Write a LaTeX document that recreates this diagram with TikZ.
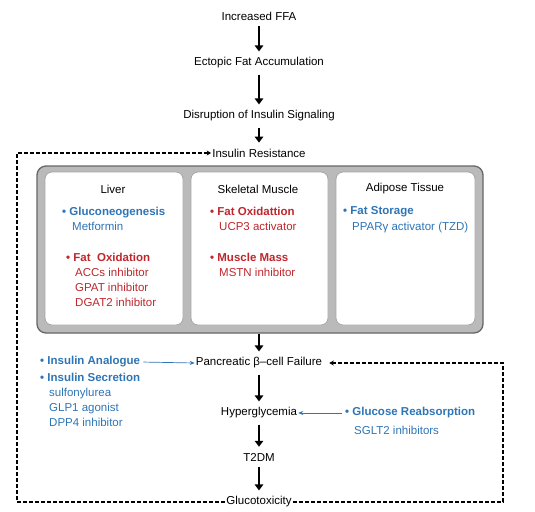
\documentclass[tikz,border=0pt]{standalone}
\usepackage{fontspec}
\setmainfont{Liberation Sans}
\usetikzlibrary{arrows.meta}
\definecolor{drugblue}{RGB}{46,117,182}
\definecolor{drugred}{RGB}{192,39,45}

\begin{document}
\begin{tikzpicture}[x=1pt,y=-1pt,
  stage/.style={inner sep=1pt,font=\fontsize{11.5}{13}\selectfont},
  flow/.style={line width=2.5pt,-{Triangle[length=6pt,width=8.5pt]},shorten <=5pt,shorten >=5pt},
  loopline/.style={dash pattern=on 4pt off 2pt,line width=1.6pt,-{Stealth[length=4.5pt,width=5pt]}},
  drug/.style={drugblue,line width=0.7pt,-{Stealth[length=5pt,width=4pt]}},
  organ/.style={draw=black!35,fill=white,rounded corners=7pt,line width=0.8pt,minimum height=153pt},
  group/.style={anchor=north west,inner sep=0pt,align=left,font=\fontsize{11.5}{15.3}\selectfont}]
\useasboundingbox (0,0) rectangle (535,511);

\node[stage] (ffa) at (259,16) {Increased FFA};
\node[stage] (ectopic) at (259,63) {Ectopic Fat Accumulation};
\node[stage] (signal) at (259,116) {Disruption of Insulin Signaling};
\node[stage] (resist) at (259,153) {Insulin Resistance};

\node[draw=black!60, fill=black!27, line width=1.3pt, rounded corners=9pt, minimum width=446pt, minimum height=167pt] (tissues) at (260,249.5) {};
\node[organ, minimum width=138pt] (liver) at (114,248.5) {};
\node[organ, minimum width=137pt] (muscle) at (259.5,248.5) {};
\node[organ, minimum width=139pt] (adipose) at (405.5,248.5) {};

\node[stage] (livertitle) at (113,189) {Liver};
\node[stage] (muscletitle) at (258,189) {Skeletal Muscle};
\node[stage] (adiposetitle) at (405,189) {Adipose Tissue};

\node[group, text=drugblue] (gluco) at (62,206.5) {\textbf{• Gluconeogenesis}\\\hspace*{10pt}Metformin};
\node[group, text=drugred] (liverfat) at (66,252.5) {\textbf{• Fat~~Oxidation}\\\hspace*{9pt}ACCs inhibitor\\\hspace*{9pt}GPAT inhibitor\\\hspace*{9pt}DGAT2 inhibitor};
\node[group, text=drugred] (musclefat) at (210,206.5) {\textbf{• Fat Oxidattion}\\\hspace*{9pt}UCP3 activator};
\node[group, text=drugred] (mass) at (210,252.5) {\textbf{• Muscle Mass}\\\hspace*{9pt}MSTN inhibitor};
\node[group, text=drugblue] (storage) at (343,206.5) {\textbf{• Fat Storage}\\\hspace*{9pt}PPARγ activator (TZD)};

\node[stage] (failure) at (259,363) {Pancreatic β–cell Failure};
\node[stage] (hyper) at (259,413) {Hyperglycemia};
\node[stage] (t2dm) at (259,457) {T2DM};
\node[stage] (glucotox) at (259,502) {Glucotoxicity};

\node[stage, anchor=west, text=drugblue, font=\fontsize{11.5}{13}\selectfont\bfseries] (analogue) at (39,362) {• Insulin Analogue};
\node[group, text=drugblue] (secretion) at (40,372.5) {\textbf{• Insulin Secretion}\\\hspace*{9pt}sulfonylurea\\\hspace*{9pt}GLP1 agonist\\\hspace*{9pt}DPP4 inhibitor};
\node[stage, anchor=west, text=drugblue, font=\fontsize{11.5}{13}\selectfont\bfseries] (reabs) at (344,413) {• Glucose Reabsorption};
\node[stage, anchor=west, text=drugblue] (sglt) at (353,430) {SGLT2 inhibitors};

\draw[flow] (ffa) -- (ectopic);
\draw[flow] (ectopic) -- (signal);
\draw[flow] (signal) -- (resist);
\draw[flow, shorten <=0pt] (tissues.south -| failure) -- (failure);
\draw[flow] (failure) -- (hyper);
\draw[flow] (hyper) -- (t2dm);
\draw[flow] (t2dm) -- (glucotox);

\draw[drug, shorten <=2pt] (analogue.east) -- (failure.west);
\draw[drug, shorten <=2pt] (reabs.west) -- (hyper.east);

\coordinate (loopleft) at (17,502);
\coordinate (loopright) at (503,502);
\draw[loopline] (glucotox.west) -- (loopleft) |- (resist.west);
\draw[loopline, shorten >=6pt] (glucotox.east) -- (loopright) |- (failure.east);
\end{tikzpicture}
\end{document}
